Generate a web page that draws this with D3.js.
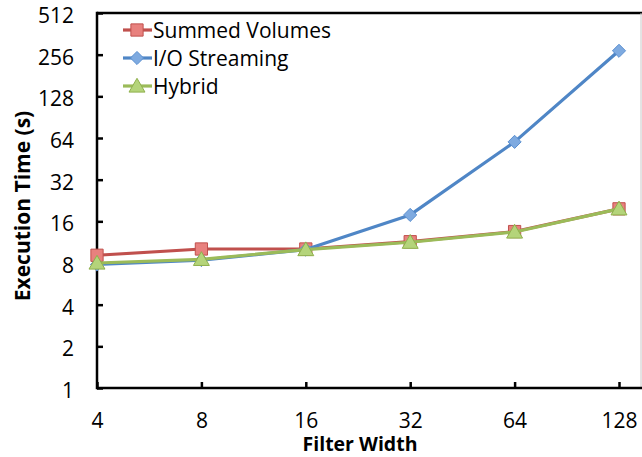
<!DOCTYPE html>
<html>
<head>
<meta charset="utf-8">
<script src="https://cdn.jsdelivr.net/npm/d3@7"></script>
<style>
  body { margin: 0; background: #fff; }
  text { font-family: "Open Sans", sans-serif; fill: #000; }
</style>
</head>
<body>
<div id="chart"></div>
<script>
// data
const filterWidths = [4, 8, 16, 32, 64, 128];
const summedVolumes = [9.1, 10.1, 10.1, 11.4, 13.5, 19.7];
const ioStreaming = [7.8, 8.4, 10.0, 17.8, 60, 273];
const hybrid = [8.0, 8.5, 10.0, 11.3, 13.4, 19.7];
const yTicks = [1, 2, 4, 8, 16, 32, 64, 128, 256, 512];

const series = [
  { name: "Summed Volumes", values: summedVolumes, line: "#c0504d", fill: "#e8817e", stroke: "#c0504d", shape: "square" },
  { name: "I/O Streaming", values: ioStreaming, line: "#4f86c6", fill: "#7eaae0", stroke: "#5a8fd0", shape: "diamond" },
  { name: "Hybrid", values: hybrid, line: "#9bbb59", fill: "#b4d47a", stroke: "#8fb04c", shape: "triangle" }
];

const W = 642, H = 457;
const plotLeft = 97, plotRight = 619, plotTop = 13, plotBottom = 388;

const svg = d3.select("#chart")
  .append("svg")
  .attr("width", W)
  .attr("height", H);

const x = d3.scaleLog().base(2).domain([4, 128]).range([plotLeft, plotRight]);
const y = d3.scaleLog().base(2).domain([1, 512]).range([plotBottom, plotTop]);

// plot frame: top line and light right border
svg.append("line")
  .attr("x1", plotLeft).attr("x2", W).attr("y1", plotTop).attr("y2", plotTop)
  .attr("stroke", "#000").attr("stroke-width", 2.5);
svg.append("line")
  .attr("x1", 641).attr("x2", 641).attr("y1", plotTop).attr("y2", plotBottom)
  .attr("stroke", "#c8c8c8").attr("stroke-width", 1);

// X axis
const xAxis = svg.append("g")
  .attr("transform", `translate(0, ${plotBottom})`)
  .call(d3.axisBottom(x).tickValues(filterWidths).tickFormat(d3.format("d")).tickSize(-6).tickPadding(25));
xAxis.select(".domain").remove();
xAxis.selectAll("line").attr("stroke", "#000").attr("stroke-width", 2.5);
xAxis.selectAll("text").style("font-size", "21px").attr("font-family", null);
svg.append("line")
  .attr("x1", plotLeft).attr("x2", W).attr("y1", plotBottom).attr("y2", plotBottom)
  .attr("stroke", "#000").attr("stroke-width", 2.5);

// Y axis
const yAxis = svg.append("g")
  .attr("transform", `translate(${plotLeft}, 0)`)
  .call(d3.axisLeft(y).tickValues(yTicks).tickFormat(d3.format("d")).tickSize(-6).tickPadding(23));
yAxis.select(".domain").remove();
yAxis.selectAll("line").attr("stroke", "#000").attr("stroke-width", 2.5);
yAxis.selectAll("text").style("font-size", "21px").attr("font-family", null).attr("dy", "0.45em");
svg.append("line")
  .attr("x1", plotLeft).attr("x2", plotLeft).attr("y1", plotTop - 1.2).attr("y2", plotBottom + 1.2)
  .attr("stroke", "#000").attr("stroke-width", 2.5);

// axis titles
svg.append("text")
  .attr("x", 360).attr("y", 451)
  .attr("text-anchor", "middle")
  .style("font-size", "19.5px").style("font-weight", "bold")
  .text("Filter Width");
svg.append("text")
  .attr("transform", "translate(30, 206) rotate(-90)")
  .attr("text-anchor", "middle")
  .style("font-size", "21px").style("font-weight", "bold")
  .text("Execution Time (s)");

const symbols = {
  square: d3.symbol().type(d3.symbolSquare).size(150),
  diamond: d3.symbol().type(d3.symbolDiamond2).size(110),
  triangle: d3.symbol().type(d3.symbolTriangle).size(110)
};

const line = d3.line()
  .x((d, i) => x(filterWidths[i]))
  .y(d => y(d));

series.forEach(function (s) {
  const g = svg.append("g");
  g.append("path")
    .datum(s.values)
    .attr("fill", "none")
    .attr("stroke", s.line)
    .attr("stroke-width", 3.2)
    .attr("stroke-linejoin", "round")
    .attr("d", line);
  g.selectAll("path.pt")
    .data(s.values)
    .join("path")
    .attr("class", "pt")
    .attr("transform", (d, i) => `translate(${x(filterWidths[i])}, ${y(d) + (s.shape === "triangle" ? 1.5 : 0)})`)
    .attr("d", symbols[s.shape])
    .attr("fill", s.fill)
    .attr("stroke", s.stroke)
    .attr("stroke-width", 1);
});

// legend
const legend = svg.append("g");
series.forEach(function (s, i) {
  const ly = 30 + i * 28;
  legend.append("line")
    .attr("x1", 123).attr("x2", 152).attr("y1", ly).attr("y2", ly)
    .attr("stroke", s.line).attr("stroke-width", 3.2);
  legend.append("path")
    .attr("transform", `translate(137, ${ly + (s.shape === "triangle" ? 1.5 : 0)})`)
    .attr("d", symbols[s.shape])
    .attr("fill", s.fill)
    .attr("stroke", s.stroke)
    .attr("stroke-width", 1);
  legend.append("text")
    .attr("x", 153).attr("y", ly)
    .attr("dy", "0.36em")
    .style("font-size", "21px")
    .text(s.name);
});
</script>
</body>
</html>
